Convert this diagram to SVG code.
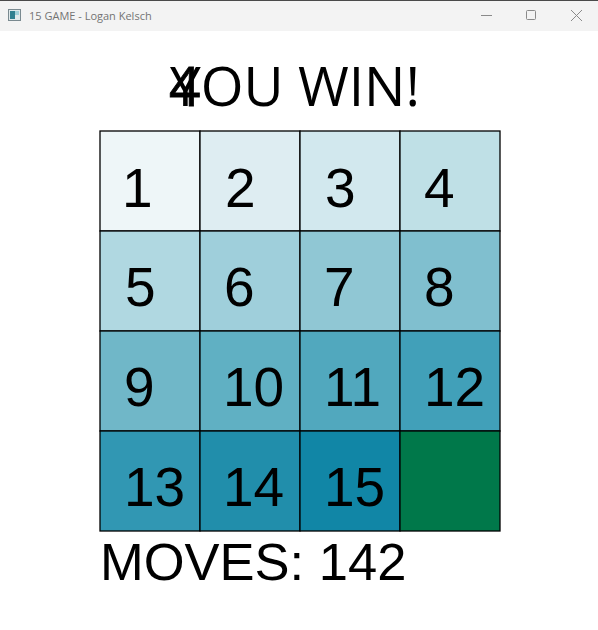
<svg xmlns="http://www.w3.org/2000/svg" width="598" height="630" viewBox="0 0 598 630">
<style>
.tile{stroke:#000;stroke-width:1.3}
.num{font-family:"Liberation Sans",Arial,sans-serif;font-size:55px;fill:#000}
.title{font-family:"Open Sans","Noto Sans",sans-serif;font-size:55px;fill:#000}
.wt{font-family:"Open Sans","Noto Sans",sans-serif;font-size:11px;fill:#737373}
.ctl{stroke:#8a8a8a;stroke-width:1;fill:none}
</style>
<rect x="0" y="0" width="598" height="630" fill="#ffffff"/>
<g id="titlebar">
<rect x="0" y="0" width="598" height="31" fill="#f3f3f3"/>
<rect x="0" y="0" width="598" height="1" fill="#4a4a4a"/>
<rect x="8.5" y="9.5" width="12" height="11" fill="#dfe8ea" stroke="#7a8a90" stroke-width="1"/>
<rect x="10" y="11" width="5" height="8" fill="#2f7f8f"/>
<rect x="15" y="11" width="4" height="4" fill="#9fcfd8"/>
<text class="wt" x="29" y="20">15 GAME - Logan Kelsch</text>
<line class="ctl" x1="481" y1="15.5" x2="492" y2="15.5"/>
<rect class="ctl" x="526.5" y="10.5" width="9" height="9" rx="1"/>
<path class="ctl" d="M571 10 L582 21 M582 10 L571 21"/>
</g>
<g id="header">
<text class="title" x="169" y="106" stroke="#000" stroke-width="0.8">4</text>
<text class="title" x="170" y="106">YOU WIN!</text>
</g>
<g id="board">
<g id="t1"><rect class="tile" x="100" y="131" width="100" height="100" fill="#eef6f8"/><text class="num" x="122" y="207">1</text></g>
<g id="t2"><rect class="tile" x="200" y="131" width="100" height="100" fill="#deedf2"/><text class="num" x="225" y="207">2</text></g>
<g id="t3"><rect class="tile" x="300" y="131" width="100" height="100" fill="#d2e8ee"/><text class="num" x="325" y="207">3</text></g>
<g id="t4"><rect class="tile" x="400" y="131" width="100" height="100" fill="#bfe0e6"/><text class="num" x="424" y="207">4</text></g>
<g id="t5"><rect class="tile" x="100" y="231" width="100" height="100" fill="#b0d8e1"/><text class="num" x="125" y="306">5</text></g>
<g id="t6"><rect class="tile" x="200" y="231" width="100" height="100" fill="#9fcfdb"/><text class="num" x="224" y="306">6</text></g>
<g id="t7"><rect class="tile" x="300" y="231" width="100" height="100" fill="#90c7d4"/><text class="num" x="324" y="306">7</text></g>
<g id="t8"><rect class="tile" x="400" y="231" width="100" height="100" fill="#80bfcf"/><text class="num" x="424" y="306">8</text></g>
<g id="t9"><rect class="tile" x="100" y="331" width="100" height="100" fill="#70b7c8"/><text class="num" x="124" y="406">9</text></g>
<g id="t10"><rect class="tile" x="200" y="331" width="100" height="100" fill="#60b0c3"/><text class="num" x="223" y="406">10</text></g>
<g id="t11"><rect class="tile" x="300" y="331" width="100" height="100" fill="#51a8be"/><text class="num" x="324" y="406">11</text></g>
<g id="t12"><rect class="tile" x="400" y="331" width="100" height="100" fill="#41a0b9"/><text class="num" x="424" y="406">12</text></g>
<g id="t13"><rect class="tile" x="100" y="431" width="100" height="100" fill="#3197b3"/><text class="num" x="124" y="506">13</text></g>
<g id="t14"><rect class="tile" x="200" y="431" width="100" height="100" fill="#218eab"/><text class="num" x="223" y="506">14</text></g>
<g id="t15"><rect class="tile" x="300" y="431" width="100" height="100" fill="#1186a6"/><text class="num" x="324" y="506">15</text></g>
<g id="t16"><rect class="tile" x="400" y="431" width="100" height="100" fill="#00784a"/></g>
</g>
<g id="moves">
<text class="num" x="100" y="580" style="font-size:52.5px">MOVES: 142</text>
</g>
</svg>
